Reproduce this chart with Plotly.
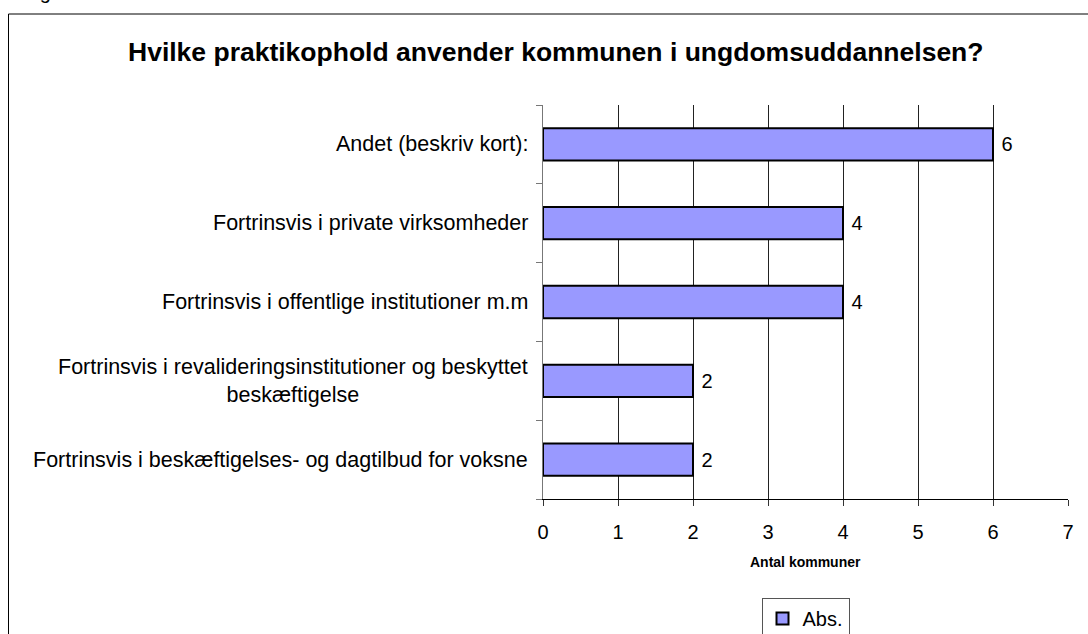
import plotly.graph_objects as go

categories = [
    "Fortrinsvis i beskæftigelses- og dagtilbud for voksne",
    "Fortrinsvis i revalideringsinstitutioner og beskyttet<br>beskæftigelse",
    "Fortrinsvis i offentlige institutioner m.m",
    "Fortrinsvis i private virksomheder",
    "Andet (beskriv kort):",
]
values = [2, 2, 4, 4, 6]
x_ticks = [0, 1, 2, 3, 4, 5, 6, 7]
series_name = "Abs."
title = "Hvilke praktikophold anvender kommunen i ungdomsuddannelsen?"
x_title = "Antal kommuner"
cut_text = "Fig"

FONT = "Liberation Sans, Arial, sans-serif"
FS = 20
LFS = 21.5
W, H = 1088, 634
L, R, T, B = 543, 20, 105, 135
pw, ph = W - L - R, H - T - B

def px_x(px):
    return (px - L) / pw

def px_y(py):
    return (H - B - py) / ph

fig = go.Figure()
fig.add_trace(go.Bar(
    y=categories, x=values, orientation="h", name=series_name,
    marker=dict(color="#9999FF", line=dict(color="black", width=2)),
    text=values, texttemplate="\u00a0%{x}", textposition="outside", cliponaxis=False,
    textfont=dict(family=FONT, size=FS, color="black"),
    showlegend=True,
))

annotations = []
for c in categories:
    annotations.append(dict(
        x=0, xref="paper", y=c, yref="y", text=c, showarrow=False,
        xanchor="right", yanchor="middle", align="center", xshift=-13,
        font=dict(family=FONT, size=LFS, color="black"),
    ))
annotations.append(dict(
    x=0.5, xref="paper", y=px_y(562), yref="paper", text="<b>%s</b>" % x_title,
    showarrow=False, xanchor="center", yanchor="middle",
    font=dict(family=FONT, size=14, color="black"),
))
annotations.append(dict(
    x=px_x(556), xref="paper", y=px_y(52), yref="paper", text="<b>%s</b>" % title,
    showarrow=False, xanchor="center", yanchor="middle",
    font=dict(family=FONT, size=26.5, color="black"),
))
annotations.append(dict(
    x=px_x(21), xref="paper", y=px_y(5), yref="paper", text=cut_text,
    showarrow=False, xanchor="left", yanchor="bottom",
    font=dict(family=FONT, size=FS, color="black"),
))

fig.update_layout(
    width=W, height=H,
    margin=dict(l=L, r=R, t=T, b=B, pad=0, autoexpand=False),
    paper_bgcolor="white", plot_bgcolor="white",
    font=dict(family=FONT, size=FS, color="black"),
    bargap=0.59,
    xaxis=dict(
        range=[0, 7], tickvals=x_ticks, showgrid=True, gridcolor="#222", gridwidth=1,
        zeroline=False, showline=True, linecolor="black", linewidth=1,
        ticks="outside", ticklen=6, tickcolor="#333", tickfont=dict(family=FONT, size=FS),
        ticklabelstandoff=9, fixedrange=True, automargin=False,
    ),
    yaxis=dict(
        type="category", categoryorder="array", categoryarray=categories,
        range=[-0.5, 4.5], showticklabels=False, showgrid=False,
        showline=True, linecolor="#777", linewidth=1,
        ticks="outside", tickson="boundaries", ticklen=6, tickcolor="#777",
        fixedrange=True, automargin=False,
    ),
    legend=dict(
        x=0.5, xanchor="center", y=px_y(598), yanchor="top", orientation="h",
        bordercolor="#555", borderwidth=1, bgcolor="white",
        font=dict(family=FONT, size=FS), itemwidth=30,
    ),
    annotations=annotations,
    shapes=[dict(
        type="rect", xref="paper", yref="paper",
        x0=px_x(8.5), x1=px_x(1100), y0=px_y(650), y1=px_y(14),
        line=dict(color="black", width=1), layer="below",
    )],
)

fig.write_html("out.html", config={"displayModeBar": False},
               post_script="document.body.style.margin='0';")
